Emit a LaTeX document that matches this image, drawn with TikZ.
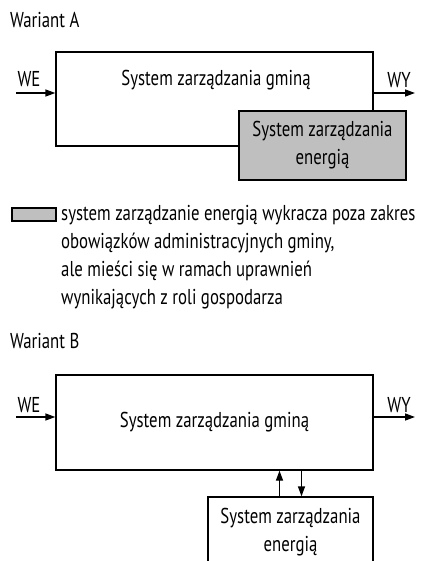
\documentclass[tikz,border=0pt]{standalone}
\usepackage{fontspec}
\setmainfont[FakeStretch=0.78]{PT Sans}
\usetikzlibrary{arrows.meta,calc}

\tikzset{
	sysbox/.style={draw, line width=1.3pt, inner sep=0pt},
	energybox/.style={sysbox, fill=black!25},
	txt/.style={inner sep=0pt, font=\fontsize{21.5}{28}\selectfont},
	arr/.style={line width=1.3pt, -{Triangle[length=10pt,width=7pt]}}
}

\begin{document}
\begin{tikzpicture}[x=1pt, y=-1pt]
		%%%%% START %%%%%
		
		\useasboundingbox (0,0) rectangle (429,561);
		\clip (0,0) rectangle (429,561);
		
		% Wariant A
		\node[txt, anchor=west] (titleA) at (10, 20) {Wariant A};
		
		\node[sysbox, minimum width=317pt, minimum height=94pt] (gminaA) at (214.5, 99) {};
		\node[txt] (gminaAtext) at (216, 80) {System zarządzania gminą};
		\node[energybox, minimum width=167pt, minimum height=69pt, txt, align=center] (energiaA) at (322.5, 145.5) {System zarządzania\\energią};
		
		\coordinate (weA) at (16, 93);
		\coordinate (wyA) at (415, 93);
		\node[txt] (weAtext) at (29, 79) {WE};
		\node[txt] (wyAtext) at (399, 80) {WY};
		\draw[arr] (weA) -- (gminaA.west |- weA);
		\draw[arr] (gminaA.east |- wyA) -- (wyA);
		
		% legenda
		\node[energybox, minimum width=44pt, minimum height=13pt] (legbox) at (34, 214.5) {};
		\node[txt, align=left, anchor=base west] (legtext) at (61, 304)
			{system zarządzanie energią wykracza poza zakres\\
			 obowiązków administracyjnych gminy,\\
			 ale mieści się w ramach uprawnień\\
			 wynikających z roli gospodarza};
		
		% Wariant B
		\node[txt, anchor=west] (titleB) at (10, 341) {Wariant B};
		
		\node[sysbox, minimum width=317pt, minimum height=95pt, txt] (gminaB) at (214.5, 422.5) {System zarządzania gminą};
		\node[sysbox, minimum width=165pt, minimum height=71pt, txt, align=center] (energiaB) at (290.5, 532.5) {System zarządzania\\energią};
		
		\coordinate (weB) at (16, 417);
		\coordinate (wyB) at (415, 417);
		\node[txt] (weBtext) at (29, 405) {WE};
		\node[txt] (wyBtext) at (399, 405) {WY};
		\draw[arr] (weB) -- (gminaB.west |- weB);
		\draw[arr] (gminaB.east |- wyB) -- (wyB);
		
		\draw[arr] ([xshift=-11pt]energiaB.north) -- ([xshift=-11pt]energiaB.north |- gminaB.south);
		\draw[arr] ([xshift=11pt]energiaB.north |- gminaB.south) -- ([xshift=11pt]energiaB.north);
		
		%%%%% END %%%%%
\end{tikzpicture}
\end{document}
